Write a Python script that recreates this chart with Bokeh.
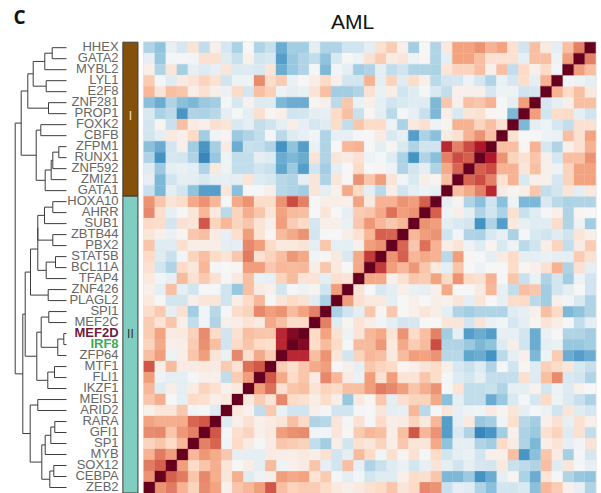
from bokeh.plotting import figure
from bokeh.models import Range1d, ColumnDataSource, LinearColorMapper
from bokeh.palettes import RdBu, interp_palette
from bokeh.core.properties import value
from bokeh.embed import file_html
from bokeh.resources import INLINE

genes = ["HHEX","GATA2","MYBL2","LYL1","E2F8","ZNF281","PROP1","FOXK2","CBFB","ZFPM1","RUNX1","ZNF592","ZMIZ1","GATA1",
         "HOXA10","AHRR","SUB1","ZBTB44","PBX2","STAT5B","BCL11A","TFAP4","ZNF426","PLAGL2","SPI1","MEF2C","MEF2D","IRF8",
         "ZFP64","MTF1","FLI1","IKZF1","MEIS1","ARID2","RARA","GFI1","SP1","MYB","SOX12","CEBPA","ZEB2"]
label_colors = {"MEF2D": "#6e1b3d", "IRF8": "#3fa857"}
group_sizes = [14, 27]
group_names = ["I", "II"]
group_colors = ["#85510a", "#80cdc1"]

# correlations: each row runs from the left edge to the diagonal
HHEX = [-.3,-.4,-.08,-.17,.14,-.25,.05,-.17,-.32,0,-.3,-.23,-.5,-.35, -.35,-.1,-.3,-.3,-.2,-.2,-.1,.15,.25,.05,-.35,0,-.3,.1,.4,.4,.45,.35,.4,.15,-.2,.3,.1,-.1,.3,.5,1]
GATA2 = [-.08,-.38,-.02,-.02,-.03,.15,.15,-.12,-.22,.04,-.18,-.16,-.55,-.38, -.3,-.25,-.4,-.15,0,-.05,.15,.25,.08,.12,-.05,.02,-.3,-.1,.4,.4,.3,.15,.15,.15,-.1,.3,.3,-.05,.42,1]
MYBL2 = [.05,-.3,.12,-.33,-.08,-.13,-.08,.12,-.14,-.13,-.15,.12,-.5,-.38, -.3,-.02,-.45,-.03,-.1,-.35,-.3,-.1,-.25,-.2,-.3,-.3,-.32,.12,.22,.22,.3,.05,.3,-.25,.2,.05,.2,-.03,1]
LYL1 = [.25,-.01,-.12,.08,.14,.22,.15,-.2,-.05,-.05,.47,.18,.25,-.07, 0,.07,.2,.05,-.18,-.18,.35,-.1,.22,-.12,.18,.05,-.27,-.18,-.17,-.05,-.17,-.3,-.07,-.17,.18,-.1,.35,1]
E2F8 = [.33,.13,.3,.28,.07,.15,.05,-.06,.2,-.18,.3,.24,-.05,-.1, -.07,.13,.3,-.35,-.35,-.3,.15,-.07,.07,-.2,-.12,-.02,-.15,-.25,.05,.05,.05,-.17,-.05,-.05,-.2,-.17,1]
ZNF281 = [-.42,-.5,-.3,-.42,-.45,-.37,-.35,-.02,-.17,.04,-.13,-.13,-.45,-.5, -.5,.03,.05,-.27,.27,-.07,.05,-.1,-.2,-.15,-.12,-.12,-.45,.27,.05,.3,.28,.35,0,-.1,.42,1]
PROP1 = [-.15,-.32,-.26,-.58,-.3,-.32,-.28,-.1,-.02,-.1,.16,.02,.05,-.2, -.18,-.1,-.08,.2,.3,-.22,.02,-.1,-.27,-.02,-.08,-.22,-.45,.07,-.15,.12,.15,.02,0,-.45,1]
FOXK2 = [-.18,.03,-.22,.3,.08,.05,.16,.12,-.15,-.1,-.24,-.2,-.1,.06, -.08,-.17,-.12,.18,-.25,.28,.18,.2,-.05,-.32,.1,.15,-.05,.03,.35,.35,.22,.3,.15,1]
CBFB = [-.18,-.1,.1,.05,.2,-.35,-.04,.03,-.37,-.3,-.25,-.01,-.27,-.13, -.08,-.03,-.3,-.08,-.08,-.02,0,.08,-.15,-.08,-.55,-.32,-.42,.08,.15,.35,.45,.3,1]
ZFPM1 = [-.42,-.5,-.18,.05,-.35,-.58,-.33,.08,-.5,-.22,-.24,-.3,-.6,-.4, -.55,-.07,-.3,0,.33,.35,0,-.1,.03,-.15,-.3,-.2,-.2,.75,.5,.65,.8,1]
RUNX1 = [-.3,-.6,-.17,-.18,-.3,-.65,-.38,-.04,-.25,-.25,-.1,-.13,-.5,-.45, -.5,.13,-.3,.12,.08,.15,-.05,-.02,-.12,-.32,-.6,-.3,-.42,.5,.65,.6,1]
ZNF592 = [-.12,-.36,-.1,-.07,-.1,-.3,.1,-.05,-.25,-.25,-.18,-.22,-.52,-.37, -.55,-.18,-.35,-.1,0,.2,0,.02,-.05,-.3,-.18,-.1,-.3,.38,.58,1]
ZMIZ1 = [-.08,-.45,-.2,-.1,-.1,-.15,-.1,-.08,-.09,.14,-.13,-.16,-.28,-.3, -.1,.12,-.3,.12,0,.45,.28,.42,.13,-.03,-.15,.06,.03,.3,1]
GATA1 = [-.22,-.45,-.1,-.18,-.4,-.55,-.55,.12,-.42,-.02,-.02,.05,-.28,-.3, -.35,.12,-.1,.04,.38,.2,-.1,-.27,.07,-.2,-.1,-.05,-.08,1]
HOXA10 = [.45,.28,.13,.18,.38,.45,.33,-.01,.38,.45,.18,.18,.45,.65, .5,0,.07,.07,.05,.4,.1,.35,.35,.45,.42,.6,1]
AHRR = [.48,.16,-.08,-.01,.12,.33,.1,-.27,.22,.36,.28,.13,.4,.32, .3,0,.12,0,-.08,.25,.28,.38,.55,.42,.45,1]
SUB1 = [.2,.18,-.18,.15,.12,.62,.22,.33,.22,.28,.14,.05,.42,.25, .2,-.17,.05,.05,-.07,.27,.43,.33,.27,.33,1]
ZBTB44 = [.12,.05,-.07,.03,.27,.3,.08,-.08,.17,.42,.14,.02,.32,.38, .45,-.18,0,0,.07,.15,.33,.6,.58,1]
PBX2 = [.28,-.12,-.12,.16,.07,.06,.07,-.1,-.1,.48,.42,.2,.1,.1, .13,-.1,.27,-.1,-.1,.05,.42,.45,1]
STAT5B = [.2,-.12,-.22,-.03,.22,.3,.2,.12,.27,.52,.15,.22,.3,.43, .38,-.03,.02,.1,-.15,.38,.7,1]
BCL11A = [.15,-.18,-.3,.2,.11,.33,-.01,0,.02,.42,.42,.27,.33,.32, .33,.07,.27,.1,0,.38,1]
TFAP4 = [.1,-.03,-.08,.32,.15,.26,.15,-.01,.1,.3,-.07,-.08,.22,.32, .13,.14,-.1,.17,.13,1]
ZNF426 = [.05,-.1,.3,-.1,-.2,0,-.02,-.2,-.38,.3,.08,.05,-.18,-.02, -.05,.03,-.2,.42,1]
PLAGL2 = [.1,-.02,-.18,-.18,.07,.12,.12,-.2,.07,.2,.33,-.01,.12,.2, .15,-.12,-.32,1]
SPI1 = [.18,.26,-.08,.15,-.35,-.03,-.28,-.02,.18,.22,.48,.42,.45,.32, .4,.5,1]
MEF2C = [.25,.14,.28,.06,-.25,-.03,-.3,.05,.07,.14,.08,.38,.3,.18, .2,1]
MEF2D = [.25,.4,.08,.1,.23,.47,.2,-.2,.15,.3,.28,.27,.75,.92,1]
IRF8 = [.22,.38,.05,.06,.25,.46,.3,-.2,.2,.28,.2,.16,.75,1]
ZFP64 = [.3,.42,-.05,.07,.28,.42,.13,-.07,.48,.17,.38,.25,1]
MTF1 = [.62,.06,.32,.08,.08,.1,.08,.26,.14,.55,.62,1]
FLI1 = [.42,-.05,-.1,-.1,-.01,.05,.05,-.25,.25,.42,1]
IKZF1 = [.33,-.12,.07,-.1,.08,.22,.15,.04,.1,1]
MEIS1 = [.28,.36,0,-.08,.2,.17,.05,.1,1]
ARID2 = [.05,.12,.12,.27,-.03,-.02,-.12,1]
RARA = [.4,.36,.36,.37,.58,.62,1]
GFI1 = [.47,.48,.28,.43,.5,1]
SP1 = [.22,.28,.2,.33,1]
MYB = [.35,.52,.42,1]
SOX12 = [.52,.6,1]
CEBPA = [.45,1]
ZEB2 = [1]
rows = [HHEX,GATA2,MYBL2,LYL1,E2F8,ZNF281,PROP1,FOXK2,CBFB,ZFPM1,RUNX1,ZNF592,ZMIZ1,GATA1,HOXA10,AHRR,SUB1,ZBTB44,PBX2,
        STAT5B,BCL11A,TFAP4,ZNF426,PLAGL2,SPI1,MEF2C,MEF2D,IRF8,ZFP64,MTF1,FLI1,IKZF1,MEIS1,ARID2,RARA,GFI1,SP1,MYB,SOX12,CEBPA,ZEB2]

# dendrogram: (left, right, merge height)
tree_I = ((((("HHEX","GATA2",14.3),"MYBL2",21.7),("LYL1","E2F8",20.3),33.3),("ZNF281","PROP1",18),38.7),
          (("FOXK2","CBFB",25.7),((((("ZFPM1","RUNX1",7.7),"ZNF592",13.7),"ZMIZ1",15.3),"GATA1",21.3)),30.3),45.3)
branch_a = ((("HOXA10","AHRR",13.7),"SUB1",22),("ZBTB44","PBX2",13.7),28.7)
branch_b = (("STAT5B","BCL11A",11),"TFAP4",20.3)
branch_c = (branch_a,branch_b,28.7)
branch_d = (branch_c,("ZNF426","PLAGL2",18.3),36)
branch_e = (("SPI1","MEF2C",17.7),(("MEF2D","IRF8",2.7),"ZFP64",8.7),25.3)
branch_f = (("MTF1","FLI1",12),"IKZF1",18.7)
branch_g = (branch_e,branch_f,29.7)
branch_h = (branch_d,branch_g,41.3)
branch_i = (((("RARA","GFI1",11.7),"SP1",15.7),"MYB",21.3),(("SOX12","CEBPA",12.7),"ZEB2",16.7),24.7)
branch_j = (("MEIS1","ARID2",28.7),branch_i,36.3)
tree_II = (branch_h,branch_j,43.7)
tree = (tree_I,tree_II,51.3)

W, H = 601, 493
cw, ch = 11.02, 10.995
ox, oy = 143.3, 41.7      # heatmap corner inside the figure
x0, x1 = -ox / cw, (W - ox) / cw
ytop, ybot = -oy / ch, (H - oy) / ch

p = figure(width=W, height=H, x_range=Range1d(x0, x1), y_range=Range1d(ybot, ytop),
           toolbar_location=None, output_backend="svg", min_border=0)
p.axis.visible = False
p.grid.visible = False
p.outline_line_color = None

n = len(genes)
# heatmap
xs, ys, vals = [], [], []
for r, row in enumerate(rows):
    for c, v in enumerate(row):
        xs.append(c); ys.append(r); vals.append(v)
        d_r, d_c = n - 1 - c, n - 1 - r
        if (d_r, d_c) != (r, c):
            xs.append(d_c); ys.append(d_r); vals.append(v)
mapper = LinearColorMapper(palette=interp_palette(RdBu[11], 256), low=-1, high=1)
src = ColumnDataSource(dict(left=xs, right=[a + 1 for a in xs], top=ys, bottom=[a + 1 for a in ys], v=vals))
p.quad(left=0, right=n, top=0, bottom=n, fill_color=None, line_color="#e6e6e6", line_width=2)
p.quad(left="left", right="right", top="top", bottom="bottom", source=src,
       fill_color={"field": "v", "transform": mapper}, line_color={"field": "v", "transform": mapper}, line_width=0.3)

# side bar
start = 0
bar_l, bar_r = -1.9, -0.53
for size, name, col, frac in zip(group_sizes, group_names, group_colors, (0.482, 0.466)):
    p.quad(left=bar_l, right=bar_r, top=start, bottom=start + size, fill_color=col, line_color="#3a3a3a", line_width=1)
    p.text(x=[(bar_l + bar_r) / 2], y=[start + size * frac], text=[name],
           text_align="center", text_baseline="middle", text_font=value("Liberation Sans"), text_font_size="12px",
           text_color="#f3e3c8" if name == "I" else "#333333")
    start += size

# row labels
lab = ColumnDataSource(dict(x=[-2.29] * n, y=[i + 0.42 for i in range(n)], t=genes,
                            c=[label_colors.get(g, "#666666") for g in genes],
                            s=["bold" if g in label_colors else "normal" for g in genes]))
p.text(x="x", y="y", text="t", source=lab, text_color="c", text_font_style="s", text_align="right",
       text_baseline="middle", text_font=value("Liberation Sans"), text_font_size="13px")

# dendrogram
leaf_x = (66 - 143.3) / cw
seg_x, seg_y = [], []
def walk(node):
    if isinstance(node, str):
        return leaf_x, genes.index(node) + 0.5
    xa, ya = walk(node[0])
    xb, yb = walk(node[1])
    xm = leaf_x - node[2] / cw
    seg_x.append([xa, xm, xm, xb])
    seg_y.append([ya, ya, yb, yb])
    return xm, (ya + yb) / 2
walk(tree)
p.multi_line(xs=seg_x, ys=seg_y, line_color="#3c3c3c", line_width=1)

# headings
p.text(x=[(352 - 143.3) / cw], y=[(20.5 - 41.7) / ch], text=["AML"], text_align="center", text_baseline="middle",
       text_font=value("Liberation Sans"), text_font_size="21px", text_color="#111111")
p.text(x=[(19 - 143.3) / cw], y=[(16 - 41.7) / ch], text=["C"], text_align="center", text_baseline="middle",
       text_font=value("Open Sans"), text_font_size="19px", text_font_style="bold", text_color="#111111")

open("out.html", "w").write(file_html(p, INLINE))
